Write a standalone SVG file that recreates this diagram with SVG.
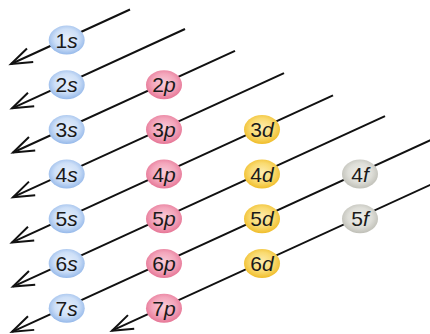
<svg xmlns="http://www.w3.org/2000/svg" width="430" height="334" viewBox="0 0 430 334">
<style>
.ln{stroke:#111;stroke-width:2;fill:none;marker-end:url(#arr)}
.nd text{font-family:"Liberation Sans",Arial,sans-serif;font-size:21px;fill:#1a1a1a;text-anchor:middle}
.nd tspan.l{font-style:italic}
.s ellipse{fill:url(#gs)}
.p ellipse{fill:url(#gp)}
.d ellipse{fill:url(#gd)}
.f ellipse{fill:url(#gf)}
</style>
<defs>
<marker id="arr" markerUnits="userSpaceOnUse" markerWidth="30" markerHeight="20" viewBox="-24 -10 30 20" refX="0" refY="0" orient="auto">
<path d="M-21,-7.5 L0,0 L-21,7.5" fill="none" stroke="#111" stroke-width="2"/>
</marker>
<radialGradient id="gs" cx="50%" cy="45%" r="55%"><stop offset="0" stop-color="#e6effb"/><stop offset="0.6" stop-color="#cddff7"/><stop offset="1" stop-color="#96b9ea"/></radialGradient>
<radialGradient id="gp" cx="50%" cy="45%" r="55%"><stop offset="0" stop-color="#f9ccd8"/><stop offset="0.6" stop-color="#f3a5bb"/><stop offset="1" stop-color="#e67696"/></radialGradient>
<radialGradient id="gd" cx="50%" cy="45%" r="55%"><stop offset="0" stop-color="#fdedb0"/><stop offset="0.6" stop-color="#f9da70"/><stop offset="1" stop-color="#f0bd2a"/></radialGradient>
<radialGradient id="gf" cx="50%" cy="45%" r="55%"><stop offset="0" stop-color="#efefeb"/><stop offset="0.6" stop-color="#deded8"/><stop offset="1" stop-color="#bfbfb7"/></radialGradient>
</defs>
<g id="connectors">
<line class="ln" x1="130" y1="9.5" x2="11" y2="64"/>
<line class="ln" x1="185" y1="29" x2="12" y2="108.3"/>
<line class="ln" x1="235" y1="50.8" x2="13" y2="152.5"/>
<line class="ln" x1="284" y1="73.1" x2="13" y2="197.2"/>
<line class="ln" x1="333" y1="95.3" x2="12" y2="242.4"/>
<line class="ln" x1="385" y1="116.2" x2="13" y2="286.6"/>
<line class="ln" x1="432" y1="139.4" x2="12" y2="331.8"/>
<line class="ln" x1="432" y1="184.1" x2="112" y2="330.7"/>
</g>
<g id="n1s" class="nd s"><ellipse cx="66.7" cy="40" rx="18" ry="14.5"/><text x="66.7" y="47.5">1<tspan class="l">s</tspan></text></g>
<g id="n2s" class="nd s"><ellipse cx="66.7" cy="84.7" rx="18" ry="14.5"/><text x="66.7" y="92.2">2<tspan class="l">s</tspan></text></g>
<g id="n3s" class="nd s"><ellipse cx="66.7" cy="129.4" rx="18" ry="14.5"/><text x="66.7" y="136.9">3<tspan class="l">s</tspan></text></g>
<g id="n4s" class="nd s"><ellipse cx="66.7" cy="174.1" rx="18" ry="14.5"/><text x="66.7" y="181.6">4<tspan class="l">s</tspan></text></g>
<g id="n5s" class="nd s"><ellipse cx="66.7" cy="218.8" rx="18" ry="14.5"/><text x="66.7" y="226.3">5<tspan class="l">s</tspan></text></g>
<g id="n6s" class="nd s"><ellipse cx="66.7" cy="263.5" rx="18" ry="14.5"/><text x="66.7" y="271">6<tspan class="l">s</tspan></text></g>
<g id="n7s" class="nd s"><ellipse cx="66.7" cy="308.2" rx="18" ry="14.5"/><text x="66.7" y="315.7">7<tspan class="l">s</tspan></text></g>
<g id="n2p" class="nd p"><ellipse cx="164" cy="84.7" rx="18" ry="14.5"/><text x="164" y="92.2">2<tspan class="l">p</tspan></text></g>
<g id="n3p" class="nd p"><ellipse cx="164" cy="129.4" rx="18" ry="14.5"/><text x="164" y="136.9">3<tspan class="l">p</tspan></text></g>
<g id="n4p" class="nd p"><ellipse cx="164" cy="174.1" rx="18" ry="14.5"/><text x="164" y="181.6">4<tspan class="l">p</tspan></text></g>
<g id="n5p" class="nd p"><ellipse cx="164" cy="218.8" rx="18" ry="14.5"/><text x="164" y="226.3">5<tspan class="l">p</tspan></text></g>
<g id="n6p" class="nd p"><ellipse cx="164" cy="263.5" rx="18" ry="14.5"/><text x="164" y="271">6<tspan class="l">p</tspan></text></g>
<g id="n7p" class="nd p"><ellipse cx="164" cy="308.2" rx="18" ry="14.5"/><text x="164" y="315.7">7<tspan class="l">p</tspan></text></g>
<g id="n3d" class="nd d"><ellipse cx="262" cy="129.4" rx="18" ry="14.5"/><text x="262" y="136.9">3<tspan class="l">d</tspan></text></g>
<g id="n4d" class="nd d"><ellipse cx="262" cy="174.1" rx="18" ry="14.5"/><text x="262" y="181.6">4<tspan class="l">d</tspan></text></g>
<g id="n5d" class="nd d"><ellipse cx="262" cy="218.8" rx="18" ry="14.5"/><text x="262" y="226.3">5<tspan class="l">d</tspan></text></g>
<g id="n6d" class="nd d"><ellipse cx="262" cy="263.5" rx="18" ry="14.5"/><text x="262" y="271">6<tspan class="l">d</tspan></text></g>
<g id="n4f" class="nd f"><ellipse cx="360" cy="174.1" rx="18" ry="14.5"/><text x="360" y="181.6">4<tspan class="l">f</tspan></text></g>
<g id="n5f" class="nd f"><ellipse cx="360" cy="218.8" rx="18" ry="14.5"/><text x="360" y="226.3">5<tspan class="l">f</tspan></text></g>
</svg>
